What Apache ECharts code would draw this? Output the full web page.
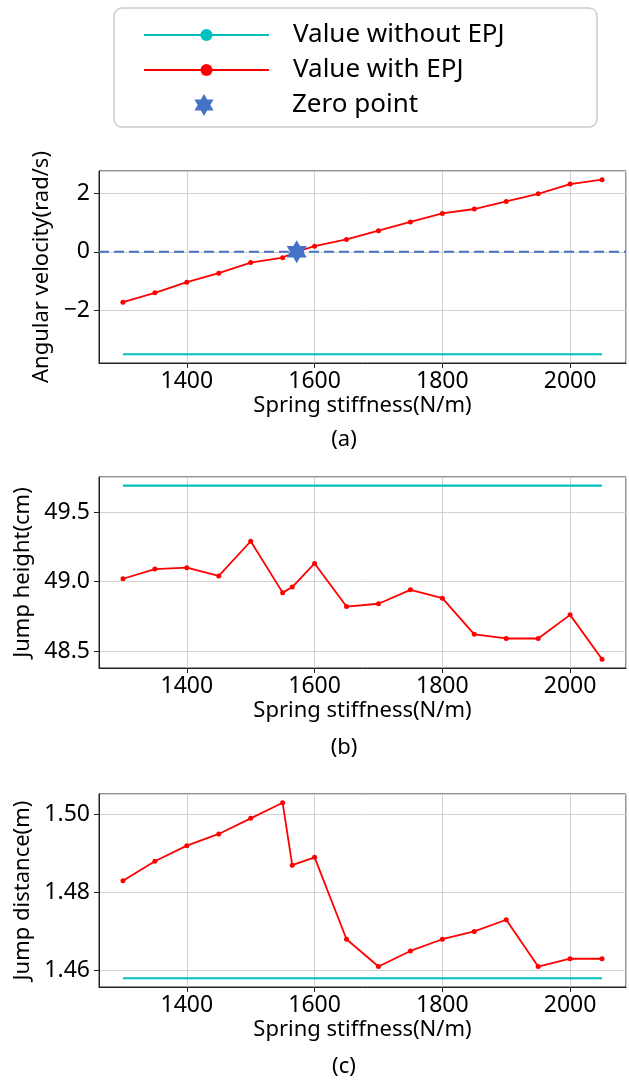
<!DOCTYPE html>
<html>
<head>
<meta charset="utf-8">
<script src="https://cdn.jsdelivr.net/npm/echarts@6/dist/echarts.min.js"></script>
<style>
html, body { margin: 0; padding: 0; background: #fff; }
#main { width: 629px; height: 1082px; }
</style>
</head>
<body>
<div id="main"></div>
<script>
// spring stiffness (N/m), shared by all three panels
var stiffness = [1300, 1350, 1400, 1450, 1500, 1550, 1565, 1600, 1650, 1700, 1750, 1800, 1850, 1900, 1950, 2000, 2050];
// (a) angular velocity, rad/s
var omegaEPJ = [-1.72, -1.40, -1.04, -0.73, -0.37, -0.20, -0.05, 0.19, 0.42, 0.72, 1.02, 1.31, 1.46, 1.72, 1.98, 2.31, 2.46];
var omegaBase = -3.5;
var zeroPoint = [1572, 0];
// (b) jump height, cm
var heightEPJ = [49.02, 49.09, 49.10, 49.04, 49.29, 48.92, 48.96, 49.13, 48.82, 48.84, 48.94, 48.88, 48.62, 48.59, 48.59, 48.76, 48.44];
var heightBase = 49.69;
// (c) jump distance, m
var distEPJ = [1.483, 1.488, 1.492, 1.495, 1.499, 1.503, 1.487, 1.489, 1.468, 1.461, 1.465, 1.468, 1.470, 1.473, 1.461, 1.463, 1.463];
var distBase = 1.458;

var panelNames = ['(a)', '(b)', '(c)'];
var yNames = ['Angular velocity(rad/s)', 'Jump height(cm)', 'Jump distance(m)'];

var FONT = 'Noto Sans';
var CYAN = '#00BFBF', RED = '#FF0000', BLUE = '#4472C4';
var STAR = 'path://M10 0L12.887 5L18.66 5L15.774 10L18.66 15L12.887 15L10 20L7.113 15L1.34 15L4.226 10L1.34 5L7.113 5Z';

function pair(ys) {
    return stiffness.map(function (x, i) { return [x, ys[i]]; });
}
function baseLine(v) {
    return [[stiffness[0], v], [stiffness[stiffness.length - 1], v]];
}
// matplotlib style 5% margins
function padExtent(vals) {
    var lo = Math.min.apply(null, vals), hi = Math.max.apply(null, vals);
    var m = (hi - lo) * 0.05;
    return [lo - m, hi + m];
}
// six pointed star outline around cx, cy (legend swatch)
function hexagram(cx, cy, R) {
    var pts = [];
    for (var k = 0; k < 12; k++) {
        var r = k % 2 ? R / Math.sqrt(3) : R;
        var a = (-90 + k * 30) * Math.PI / 180;
        pts.push([cx + r * Math.cos(a), cy + r * Math.sin(a)]);
    }
    return pts;
}

var xExt = padExtent(stiffness);
var panels = [
    { top: 171, height: 192, ys: omegaEPJ, base: omegaBase, gap: 46, fmt: function (v) { return String(v).replace('-', '\u2212'); } },
    { top: 477, height: 191, ys: heightEPJ, base: heightBase, gap: 65, fmt: function (v) { return v.toFixed(1); } },
    { top: 794, height: 193, ys: distEPJ, base: distBase, gap: 65, fmt: function (v) { return v.toFixed(2); } }
];
var labelY = [440, 748, 1067];

var grids = [], xAxes = [], yAxes = [], series = [], graphics = [];

panels.forEach(function (p, i) {
    var yExt = padExtent(p.ys.concat([p.base]));
    grids.push({
        left: 99, right: 3, top: p.top, height: p.height,
        show: true, borderColor: '#222', borderWidth: 1
    });
    xAxes.push({
        type: 'value', gridIndex: i, min: xExt[0], max: xExt[1], splitNumber: 4,
        name: 'Spring stiffness(N/m)', nameLocation: 'middle', nameGap: 32,
        nameTextStyle: { fontFamily: FONT, fontSize: 22, color: '#000' },
        axisLine: { show: true, onZero: false, lineStyle: { color: '#222', width: 1 } },
        axisTick: { show: true, length: 5, lineStyle: { color: '#222' } },
        axisLabel: {
            margin: 7, fontFamily: FONT, fontSize: 23, color: '#000',
            showMinLabel: false, showMaxLabel: false,
            formatter: function (v) { return String(v); }
        },
        splitLine: { show: true, lineStyle: { color: '#d0d0d0', width: 1 } }
    });
    yAxes.push({
        type: 'value', gridIndex: i, min: yExt[0], max: yExt[1], splitNumber: i === 2 ? 2 : 3,
        name: yNames[i], nameLocation: 'middle', nameGap: p.gap,
        nameTextStyle: { fontFamily: FONT, fontSize: 22, color: '#000' },
        axisLine: { show: true, onZero: false, lineStyle: { color: '#222', width: 1 } },
        axisTick: { show: true, length: 5, lineStyle: { color: '#222' } },
        axisLabel: { margin: 9, fontFamily: FONT, fontSize: 23, color: '#000', showMinLabel: false, showMaxLabel: false, formatter: p.fmt },
        splitLine: { show: true, lineStyle: { color: '#d0d0d0', width: 1 } }
    });
    series.push({
        name: 'Value without EPJ', type: 'line', xAxisIndex: i, yAxisIndex: i,
        data: baseLine(p.base), symbol: 'none', silent: true,
        itemStyle: { color: CYAN }, lineStyle: { color: CYAN, width: 2.2 }
    });
    series.push({
        name: 'Value with EPJ', type: 'line', xAxisIndex: i, yAxisIndex: i,
        data: pair(p.ys), symbol: 'circle', symbolSize: 5, z: 3,
        itemStyle: { color: RED }, lineStyle: { color: RED, width: 1.8 }
    });
    graphics.push({
        type: 'text', x: 344, y: labelY[i],
        style: { text: panelNames[i], font: '22px "Noto Sans"', fill: '#000', textAlign: 'center', textVerticalAlign: 'middle' }
    });
});

// dashed zero reference across panel (a)
series.push({
    name: 'zero line', type: 'line', xAxisIndex: 0, yAxisIndex: 0,
    data: [[xExt[0], 0], [xExt[1], 0]], symbol: 'none', silent: true, z: 2,
    lineStyle: { color: BLUE, width: 2.2, type: [10, 5] }
});
series.push({
    name: 'Zero point', type: 'scatter', xAxisIndex: 0, yAxisIndex: 0,
    data: [zeroPoint], symbol: STAR, symbolSize: [20, 23], z: 5,
    itemStyle: { color: BLUE, opacity: 1 }
});

// legend frame and the star entry
graphics.unshift({
    type: 'rect', shape: { x: 114, y: 8, width: 483, height: 119, r: 8 },
    style: { fill: '#fff', stroke: '#cccccc', lineWidth: 1.5 }, z: 0
});
graphics.push({
    type: 'polygon', shape: { points: hexagram(204, 105, 11) },
    style: { fill: BLUE }, z: 10
});
graphics.push({
    type: 'text', x: 292, y: 105, z: 10,
    style: { text: 'Zero point', font: '26px "Noto Sans"', fill: '#000', textVerticalAlign: 'middle' }
});

var option = {
    animation: false,
    backgroundColor: '#fff',
    graphic: graphics,
    legend: {
        orient: 'vertical', left: 143, top: 20, padding: 0, itemGap: 5,
        itemWidth: 125, itemHeight: 15, selectedMode: false,
        data: ['Value without EPJ', 'Value with EPJ'],
        textStyle: { fontFamily: FONT, fontSize: 26, color: '#000', lineHeight: 30, padding: [0, 0, 0, 19] }
    },
    grid: grids,
    xAxis: xAxes,
    yAxis: yAxes,
    series: series
};

var chart = echarts.init(document.getElementById('main'), null, { renderer: 'canvas' });
chart.setOption(option);
</script>
</body>
</html>
